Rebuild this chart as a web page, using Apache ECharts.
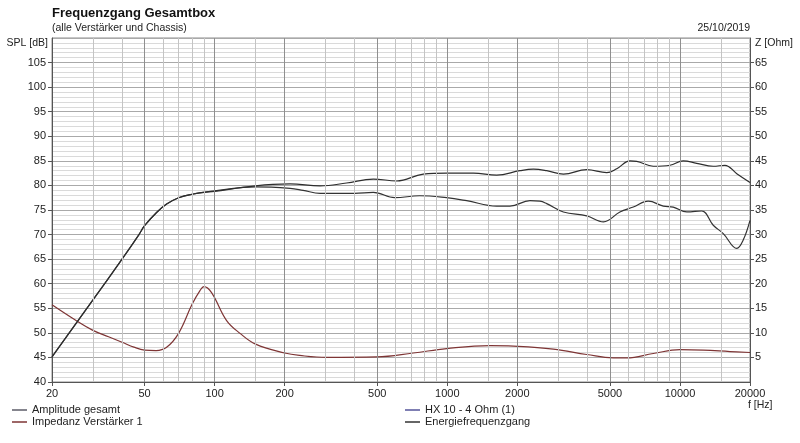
<!DOCTYPE html>
<html>
<head>
    <meta charset="utf-8">
    <title>Frequenzgang Gesamtbox</title>
    <script src="https://cdn.jsdelivr.net/npm/echarts@6.0.0/dist/echarts.min.js"></script>
    <style>
        html, body { margin: 0; padding: 0; background: #fff; }
        #main { width: 800px; height: 443px; }
    </style>
</head>
<body>
    <div id="main"></div>
    <script>
        // Amplitude gesamt (upper SPL curve)
        const ampFreq = [20, 30, 40, 47.3, 50, 56.3, 62.2, 70, 80, 100, 150, 178, 211, 284, 369, 481, 606, 788, 994, 1295, 1630, 2052, 2343, 2675, 3155, 3975, 4845, 5350, 6100, 6520, 7680, 9060, 10330, 11800, 13900, 15600, 17550, 20000];
        const ampSpl = [45.1, 56.7, 65.0, 70, 71.8, 74.5, 76.2, 77.5, 78.2, 78.9, 79.9, 80.2, 80.3, 79.9, 80.5, 81.3, 80.9, 82.3, 82.5, 82.5, 82.1, 83.0, 83.3, 83.0, 82.3, 83.2, 82.6, 83.4, 85.0, 84.9, 83.9, 84.1, 85.0, 84.5, 83.9, 84.1, 82.4, 80.6];

        // Energiefrequenzgang (lower SPL curve)
        const energyFreq = [20, 30, 40, 47.3, 50, 56.3, 62.2, 70, 80, 100, 150, 211, 240, 284, 400, 481, 595, 760, 994, 1211, 1630, 1860, 2266, 2500, 2675, 3155, 3975, 4690, 5520, 6300, 7310, 8480, 9360, 10700, 12400, 13900, 15350, 17550, 18700, 20000];
        const energySpl = [45.1, 56.7, 65.0, 70, 71.8, 74.5, 76.2, 77.5, 78.2, 78.8, 79.7, 79.4, 79.0, 78.4, 78.4, 78.6, 77.5, 77.9, 77.5, 76.9, 75.8, 75.8, 76.9, 76.8, 76.3, 74.6, 73.8, 72.6, 74.6, 75.6, 76.8, 75.8, 75.6, 74.6, 74.8, 71.9, 70.2, 67.2, 68.9, 72.9];

        // Impedanz Verstärker 1 (right axis, Ohm)
        const impFreq = [20, 25, 30, 35, 40, 45, 50, 56, 62, 70, 80, 86.5, 90, 97, 112.6, 128.6, 150, 200, 232, 303, 497, 714, 994, 1525, 1923, 2855, 3975, 5170, 5900, 7680, 10000, 12600, 16400, 20000];
        const impOhm = [15.7, 12.7, 10.5, 9.2, 8.1, 7.1, 6.5, 6.4, 7.0, 9.9, 15.8, 18.6, 19.4, 18.2, 12.5, 9.9, 7.7, 5.9, 5.4, 5.0, 5.1, 5.9, 6.8, 7.4, 7.3, 6.7, 5.6, 4.9, 4.9, 5.8, 6.6, 6.5, 6.2, 6.0];

        // axis labels and grid
        const freqLabels = [20, 50, 100, 200, 500, 1000, 2000, 5000, 10000, 20000];
        const minorFreqLines = [30, 40, 60, 70, 80, 90, 150, 300, 400, 600, 700, 800, 900, 1500, 3000, 4000, 6000, 7000, 8000, 9000, 15000];
        const majorFreqLines = [50, 100, 200, 500, 1000, 2000, 5000, 10000];

        const FONT = 'Liberation Sans, Arial, sans-serif';

        function pairs(xs, ys) {
            return xs.map((x, i) => [x, ys[i]]);
        }

        function legendAt(name, left, top) {
            return {
                data: [name],
                left: left,
                top: top,
                padding: 0,
                icon: 'rect',
                itemWidth: 15,
                itemHeight: 1.5,
                itemGap: 0,
                selectedMode: false,
                textStyle: { fontFamily: FONT, fontSize: 11, color: '#222', lineHeight: 12, padding: [0, 0, 0, 0] }
            };
        }

        var myChart = echarts.init(document.getElementById('main'));

        const option = {
            animation: false,
            backgroundColor: '#fff',
            title: {
                text: 'Frequenzgang Gesamtbox',
                subtext: '(alle Verstärker und Chassis)',
                left: 52,
                top: 7,
                padding: 0,
                itemGap: 3,
                textStyle: { fontFamily: FONT, fontSize: 13, fontWeight: 'bold', color: '#111' },
                subtextStyle: { fontFamily: FONT, fontSize: 10.5, color: '#222' }
            },
            legend: [
                legendAt('Amplitude gesamt', 12, 404),
                legendAt('Impedanz Verstärker 1', 12, 416),
                legendAt('HX 10 - 4 Ohm (1)', 405, 404),
                legendAt('Energiefrequenzgang', 405, 416)
            ],
            grid: {
                left: 52, right: 50, top: 38, bottom: 61,
                show: true, borderColor: '#8c8c8c', borderWidth: 1
            },
            xAxis: {
                type: 'log',
                logBase: 10,
                min: 20,
                max: 20000,
                axisLine: { lineStyle: { color: '#555' } },
                axisTick: { customValues: freqLabels, length: 4, lineStyle: { color: '#555' } },
                axisLabel: {
                    customValues: freqLabels,
                    formatter: v => String(Math.round(v)),
                    fontFamily: FONT, fontSize: 11, color: '#222', margin: 6
                },
                splitLine: { show: false },
                minorTick: { show: false },
                minorSplitLine: { show: false }
            },
            yAxis: [
                {
                    type: 'value',
                    min: 40, max: 110, interval: 5,
                    axisLine: { show: true, lineStyle: { color: '#555' } },
                    axisTick: { show: true, length: 4, lineStyle: { color: '#555' } },
                    axisLabel: { showMaxLabel: false, fontFamily: FONT, fontSize: 11, color: '#222', margin: 6 },
                    splitLine: { show: true, lineStyle: { color: '#a9a9a9', width: 1 } },
                    minorTick: { show: false, splitNumber: 5 },
                    minorSplitLine: { show: true, lineStyle: { color: '#dadada', width: 1 } }
                },
                {
                    type: 'value',
                    min: 0, max: 70, interval: 5,
                    position: 'right',
                    axisLine: { show: true, lineStyle: { color: '#555' } },
                    axisTick: { show: true, length: 4, lineStyle: { color: '#555' } },
                    axisLabel: { showMinLabel: false, showMaxLabel: false, fontFamily: FONT, fontSize: 11, color: '#222', margin: 5 },
                    splitLine: { show: false }
                }
            ],
            graphic: [
                { type: 'text', x: 48, y: 43, style: { text: 'SPL [dB]', font: '10.5px ' + FONT, fill: '#222', align: 'right', verticalAlign: 'middle' } },
                { type: 'text', x: 755, y: 43, style: { text: 'Z [Ohm]', font: '10.5px ' + FONT, fill: '#222', align: 'left', verticalAlign: 'middle' } },
                { type: 'text', x: 748, y: 405, style: { text: 'f [Hz]', font: '10.5px ' + FONT, fill: '#222', align: 'left', verticalAlign: 'middle' } },
                { type: 'text', x: 750, y: 28, style: { text: '25/10/2019', font: '10.5px ' + FONT, fill: '#222', align: 'right', verticalAlign: 'middle' } }
            ],
            series: [
                {
                    name: 'grid-lines',
                    type: 'line',
                    data: [],
                    z: 1,
                    silent: true,
                    markLine: {
                        silent: true,
                        symbol: 'none',
                        animation: false,
                        label: { show: false },
                        emphasis: { disabled: true },
                        data: minorFreqLines.map(f => ({ xAxis: f, lineStyle: { color: '#c4c4c4', width: 1, type: 'solid' } }))
                            .concat(majorFreqLines.map(f => ({ xAxis: f, lineStyle: { color: '#8f8f8f', width: 1, type: 'solid' } })))
                    }
                },
                {
                    name: 'HX 10 - 4 Ohm (1)',
                    type: 'line',
                    data: [],
                    showSymbol: false,
                    symbol: 'none',
                    color: '#55559a',
                    lineStyle: { width: 1.2 }
                },
                {
                    name: 'Impedanz Verstärker 1',
                    type: 'line',
                    yAxisIndex: 1,
                    data: pairs(impFreq, impOhm),
                    smooth: 0.4,
                    showSymbol: false,
                    symbol: 'none',
                    z: 3,
                    color: '#7e3535',
                    lineStyle: { width: 1.2 }
                },
                {
                    name: 'Energiefrequenzgang',
                    type: 'line',
                    data: pairs(energyFreq, energySpl),
                    smooth: 0.4,
                    showSymbol: false,
                    symbol: 'none',
                    z: 3,
                    color: '#333333',
                    lineStyle: { width: 1.2 }
                },
                {
                    name: 'Amplitude gesamt',
                    type: 'line',
                    data: pairs(ampFreq, ampSpl),
                    smooth: 0.4,
                    showSymbol: false,
                    symbol: 'none',
                    z: 4,
                    color: '#5c5c68',
                    lineStyle: { width: 1.2, color: '#2e2e2e' }
                }
            ]
        };

        myChart.setOption(option);
    </script>
</body>
</html>
